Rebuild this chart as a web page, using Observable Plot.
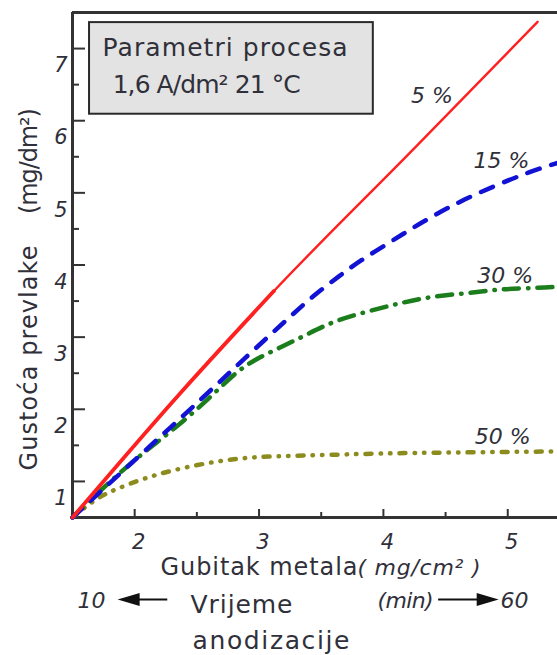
<!DOCTYPE html>
<html><head><meta charset="utf-8">
<script src="https://cdn.jsdelivr.net/npm/d3@7"></script>
<script src="https://cdn.jsdelivr.net/npm/@observablehq/plot@0.6"></script>
<style>
html,body{margin:0;padding:0;background:#fff;overflow:hidden}
svg{display:block}
</style></head><body><div id="chart"></div>
<script>
// Series: metal loss (mg/cm²) vs coating density (mg/dm²)
const seriesNames = ["5 %", "15 %", "30 %", "50 %"];
const seriesColors = ["#ff2020", "#1212d4", "#1c7d1c", "#8c8c1e"];

const x5  = [1.5, 2.37, 3.12, 4.25, 5.24];
const y5  = [0.5, 2.23, 3.64, 5.62, 7.37];

const x15 = [1.5, 1.75, 2.13, 2.53, 2.88, 3.26, 3.44, 3.64, 3.82, 4.04, 4.23, 4.44, 4.65, 4.9, 5.17, 5.41];
const y15 = [0.5, 0.9, 1.5, 2.13, 2.7, 3.3, 3.58, 3.84, 4.07, 4.3, 4.51, 4.72, 4.91, 5.1, 5.29, 5.42];

const x30 = [1.5, 1.75, 2.02, 2.23, 2.43, 2.64, 2.83, 2.99, 3.2, 3.4, 3.61, 3.88, 4.15, 4.41, 4.69, 4.95, 5.22, 5.41];
const y30 = [0.5, 0.92, 1.33, 1.61, 1.89, 2.22, 2.54, 2.71, 2.88, 3.05, 3.23, 3.36, 3.48, 3.57, 3.61, 3.67, 3.68, 3.7];

const x50 = [1.5, 1.7, 1.86, 2.07, 2.29, 2.56, 2.83, 3.1, 3.42, 3.98, 4.52, 5.33, 5.41];
const y50 = [0.5, 0.78, 0.9, 1.04, 1.15, 1.25, 1.32, 1.35, 1.36, 1.39, 1.4, 1.415, 1.415];

// curve label anchor points (data units)
const labelX = [4.39, 4.95, 4.98, 4.96];
const labelY = [6.34, 5.44, 3.85, 1.61];

// ticks
const xMajor = [2, 3, 4, 5];
const xMinor = [2.5, 3.5, 4.5];
const yMajor = [1, 2, 3, 4, 5, 6, 7];
const yMinor = [1.5, 2.5, 3.5, 4.5, 5.5, 6.5];
const xDomain = [1.5, 5.4];
const yDomain = [0.5, 7.5];

// texts
const boxLines = ["Parametri procesa", "1,6 A/dm² 21 °C"];
const yTitle = ["Gustoća prevlake", "(mg/dm²)"];
const xTitle = "Gubitak metala";
const xUnit = "( mg/cm² )";
const timeStart = "10", timeEnd = "60", timeUnit = "(min)";
const timeTitle = ["Vrijeme", "anodizacije"];

const rows = (xs, ys, s) => xs.map((x, i) => ({x, y: ys[i], s}));
const d5 = rows(x5, y5, seriesNames[0]);
const d15 = rows(x15, y15, seriesNames[1]);
const d30 = rows(x30, y30, seriesNames[2]);
const d50 = rows(x50, y50, seriesNames[3]);
const labels = seriesNames.map((s, i) => ({s, x: labelX[i], y: labelY[i]}));

const ink = "#30303a";
const axisInk = "#333";
const font = "'DejaVu Sans', Verdana, sans-serif";

// filled arrow head, tip at the point, pointing right before rotation
const arrowHead = {draw(ctx) { ctx.moveTo(0, 0); ctx.lineTo(-22, -6.5); ctx.lineTo(-22, 6.5); ctx.closePath(); }};

const T = (txt, o) => Plot.text([txt], {text: d => d, fill: ink, lineAnchor: "middle", ...o});

const chart = Plot.plot({
  width: 557,
  height: 655,
  marginLeft: 72,
  marginRight: 0,
  marginTop: 12,
  marginBottom: 138,
  x: {domain: xDomain},
  y: {domain: yDomain},
  style: {fontFamily: font, background: "#fff", overflow: "visible"},
  marks: [
    // parameter box
    Plot.rect([0], {x1: 1.637, x2: 3.919, y1: 6.09, y2: 7.36, fill: "#e3e3e3", stroke: "#2a2a2a", strokeWidth: 2}),
    T(boxLines[0], {x: 1.742, y: 7.01, textAnchor: "start", fontSize: 25}),
    T(boxLines[1], {x: 1.823, y: 6.49, textAnchor: "start", fontSize: 25}),
    // inner ticks
    Plot.axisY({ticks: yMajor, tickSize: -13, tickFormat: () => "", label: null, stroke: axisInk, strokeWidth: 2}),
    Plot.axisY({ticks: yMinor, tickSize: -7, tickFormat: () => "", label: null, stroke: axisInk, strokeWidth: 2}),
    Plot.axisX({ticks: xMajor, tickSize: -8, tickFormat: () => "", label: null, stroke: axisInk, strokeWidth: 2}),
    Plot.axisX({ticks: xMinor, tickSize: -5, tickFormat: () => "", label: null, stroke: axisInk, strokeWidth: 2}),
    // frame lines
    Plot.ruleX([xDomain[0]], {stroke: axisInk, strokeWidth: 3}),
    Plot.ruleY([yDomain[0]], {stroke: axisInk, strokeWidth: 3}),
    Plot.ruleY([yDomain[1]], {stroke: axisInk, strokeWidth: 3}),
    // tick labels
    Plot.text(yMajor, {y: d => d, frameAnchor: "left", dx: -5, dy: 17, textAnchor: "end", lineAnchor: "middle", fontSize: 21, fontStyle: "italic", fill: ink, text: d => String(d)}),
    Plot.text(xMajor, {x: d => d, frameAnchor: "bottom", dx: 4, dy: 25, textAnchor: "middle", lineAnchor: "middle", fontSize: 21, fontStyle: "italic", fill: ink, text: d => String(d)}),
    // curves
    Plot.line(d50, {x: "x", y: "y", stroke: seriesColors[3], strokeWidth: 4.5, strokeDasharray: "6 9 0.5 9 0.5 9", strokeLinecap: "round", curve: "basis"}),
    Plot.line(d30, {x: "x", y: "y", stroke: seriesColors[2], strokeWidth: 4.5, strokeDasharray: "15 9 0.5 9", strokeLinecap: "round", curve: "basis"}),
    Plot.line(d15, {x: "x", y: "y", stroke: seriesColors[1], strokeWidth: 4.5, strokeDasharray: "13 12", strokeLinecap: "round", curve: "basis"}),
    Plot.line(d5, {x: "x", y: "y", stroke: seriesColors[0], strokeWidth: 2.4, curve: "monotone-x"}),
    Plot.line(d5.slice(0, 3), {x: "x", y: "y", stroke: seriesColors[0], strokeWidth: 3.8, curve: "monotone-x"}),
    // curve labels
    Plot.text(labels, {x: "x", y: "y", text: "s", fontSize: 22, fontStyle: "italic", fill: ink}),
    // y title
    T(yTitle[0], {frameAnchor: "left", dx: -43, dy: 93, rotate: -90, textAnchor: "middle", fontSize: 24}),
    T(yTitle[1], {frameAnchor: "left", dx: -43, dy: -104, rotate: -90, textAnchor: "middle", fontSize: 24}),
    // x title
    T(xTitle, {frameAnchor: "bottom-left", dx: 88, dy: 50, textAnchor: "start", fontSize: 24}),
    T(xUnit, {frameAnchor: "bottom-left", dx: 285, dy: 50, textAnchor: "start", fontSize: 22, fontStyle: "italic"}),
    // time axis
    T(timeStart, {frameAnchor: "bottom-left", dx: 5, dy: 83, textAnchor: "start", fontSize: 22, fontStyle: "italic"}),
    T(timeTitle[0], {frameAnchor: "bottom-left", dx: 118, dy: 87, textAnchor: "start", fontSize: 25}),
    T(timeTitle[1], {frameAnchor: "bottom-left", dx: 120, dy: 123, textAnchor: "start", fontSize: 25}),
    T(timeUnit, {frameAnchor: "bottom-left", dx: 305, dy: 83, textAnchor: "start", fontSize: 22, fontStyle: "italic"}),
    T(timeEnd, {frameAnchor: "bottom-left", dx: 428, dy: 83, textAnchor: "start", fontSize: 22, fontStyle: "italic"}),
    // arrows
    Plot.ruleY([yDomain[0]], {x1: 1.95, x2: 2.266, dy: 82, stroke: "#111", strokeWidth: 2}),
    Plot.dot([yDomain[0]], {x: 1.863, y: d => d, dy: 82, symbol: arrowHead, rotate: 180, fill: "#111", stroke: "none"}),
    Plot.ruleY([yDomain[0]], {x1: 4.444, x2: 4.8, dy: 82, stroke: "#111", strokeWidth: 2}),
    Plot.dot([yDomain[0]], {x: 4.927, y: d => d, dy: 82, symbol: arrowHead, rotate: 0, fill: "#111", stroke: "none"})
  ]
});

// stretch texts to the widths they take in the reference
const textWidths = new Map([
  ["Parametri procesa", 245], ["1,6 A/dm² 21 °C", 188], ["Gubitak metala", 197], ["( mg/cm² )", 123],
  ["Vrijeme", 102], ["anodizacije", 157], ["(min)", 56], ["Gustoća prevlake", 225], ["(mg/dm²)", 106]
]);
for (const t of chart.querySelectorAll("text")) {
  const w = textWidths.get(t.textContent);
  if (w) { t.setAttribute("textLength", w); t.setAttribute("lengthAdjust", "spacing"); }
}
document.getElementById("chart").append(chart);
</script>
</body></html>
